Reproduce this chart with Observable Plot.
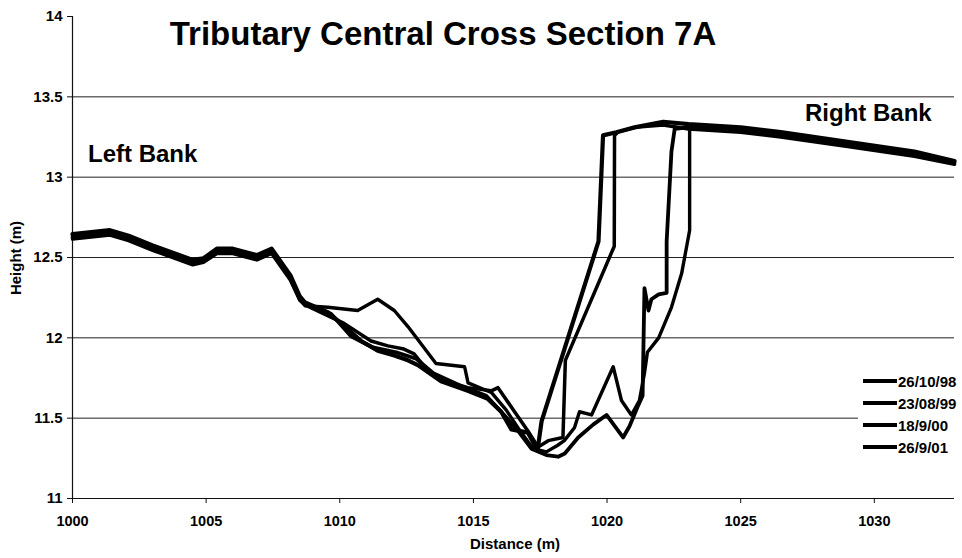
<!DOCTYPE html>
<html>
<head>
<meta charset="utf-8">
<script src="https://cdn.jsdelivr.net/npm/d3@7"></script>
<script src="https://cdn.jsdelivr.net/npm/@observablehq/plot@0.6"></script>
<style>
  html, body { margin: 0; padding: 0; background: #fff; }
  #wrap { position: relative; width: 962px; height: 558px; font-family: "Liberation Sans", Arial, Helvetica, sans-serif; font-weight: bold; color: #000; }
  #wrap svg { position: absolute; left: 0; top: 0; }
  .ov { position: absolute; white-space: nowrap; line-height: 1; }
  #legend { position: absolute; left: 858px; top: 368px; width: 104px; height: 92px; background: #fff; }
  .row { position: absolute; left: 5px; height: 18px; display: flex; align-items: center; font-size: 15px; }
  .sw { display: inline-block; width: 34px; background: #000; margin-right: 1px; }
</style>
</head>
<body>
<div id="wrap"></div>
<script>
// ---- data ----
const seriesNames = ["26/10/98", "23/08/99", "18/9/00", "26/9/01"];

const dist98 = [1000.0, 1001.4, 1002.1, 1003.0, 1004.5, 1004.9, 1005.4, 1006.0, 1006.9, 1007.45, 1008.15, 1008.5, 1008.7,
  1009.55, 1010.05, 1010.8, 1011.42, 1012.04, 1012.55, 1012.92, 1013.79, 1014.79, 1015.54, 1016.04, 1016.42, 1017.04, 1017.4,
  1017.55, 1019.68, 1019.85, 1020.35, 1021.03, 1022.1, 1023.05, 1025.0, 1026.5, 1029.0, 1031.5, 1033.0];
const height98 = [12.645, 12.67, 12.635, 12.575, 12.485, 12.495, 12.555, 12.555, 12.515, 12.555, 12.39, 12.26, 12.22,
  12.16, 12.09, 11.98, 11.92, 11.89, 11.86, 11.83, 11.73, 11.67, 11.62, 11.54, 11.43, 11.41, 11.30,
  11.48, 12.60, 13.26, 13.28, 13.31, 13.345, 13.33, 13.31, 13.28, 13.22, 13.16, 13.10];

const dist99 = [1000.0, 1001.4, 1002.1, 1003.0, 1004.5, 1004.9, 1005.4, 1006.0, 1006.9, 1007.45, 1008.15, 1008.5, 1008.7,
  1010.16, 1011.17, 1011.8, 1012.4, 1012.78, 1013.17, 1013.79, 1014.79, 1015.67, 1015.92, 1016.54, 1017.04, 1017.42,
  1017.8, 1018.35, 1018.44, 1020.27, 1020.28, 1020.4, 1021.05, 1022.1, 1023.05, 1025.0, 1026.5, 1029.0, 1031.5, 1033.0];
const height99 = [12.615, 12.64, 12.605, 12.545, 12.455, 12.47, 12.525, 12.525, 12.485, 12.525, 12.36, 12.235, 12.205,
  12.09, 11.98, 11.95, 11.93, 11.90, 11.82, 11.74, 11.69, 11.67, 11.69, 11.54, 11.42, 11.32,
  11.36, 11.38, 11.86, 12.57, 13.26, 13.28, 13.31, 13.325, 13.30, 13.28, 13.25, 13.19, 13.13, 13.08];

const dist00 = [1000.0, 1001.4, 1002.1, 1003.0, 1004.5, 1004.9, 1005.4, 1006.0, 1006.9, 1007.45, 1008.15, 1008.5, 1008.7,
  1009.67, 1010.42, 1011.24, 1012.11, 1012.86, 1013.5, 1014.54, 1015.48, 1016.15, 1016.72, 1017.17,
  1017.73, 1018.17, 1018.42, 1018.92, 1019.48, 1019.98, 1020.6, 1020.84, 1021.14, 1021.33,
  1021.4, 1021.55, 1021.66, 1021.93, 1022.23, 1022.23, 1022.41, 1022.53,
  1023.05, 1025.0, 1026.5, 1029.0, 1031.5, 1033.0];
const height00 = [12.625, 12.65, 12.62, 12.56, 12.47, 12.48, 12.54, 12.54, 12.50, 12.535, 12.37, 12.25, 12.21,
  12.15, 12.01, 11.94, 11.91, 11.87, 11.78, 11.70, 11.64, 11.52, 11.41, 11.31,
  11.27, 11.26, 11.28, 11.38, 11.46, 11.52, 11.38, 11.45, 11.57, 11.64,
  12.31, 12.17, 12.24, 12.27, 12.28, 12.60, 13.16, 13.30,
  13.31, 13.295, 13.265, 13.205, 13.145, 13.09];

const dist01 = [1000.0, 1001.4, 1002.1, 1003.0, 1004.5, 1004.9, 1005.4, 1006.0, 1006.9, 1007.45, 1008.15, 1008.5, 1008.7,
  1009.55, 1010.67, 1011.42, 1012.04, 1012.55, 1013.6, 1014.67, 1014.8, 1015.67, 1016.23, 1016.79, 1017.24,
  1017.73, 1018.14, 1018.4, 1018.78, 1018.97, 1019.42, 1020.23, 1020.54, 1020.91, 1021.21, 1021.4, 1021.51,
  1021.93, 1022.41, 1022.79, 1022.98, 1023.09, 1023.09,
  1025.0, 1026.5, 1029.0, 1031.5, 1033.0];
const height01 = [12.635, 12.66, 12.625, 12.565, 12.475, 12.49, 12.545, 12.545, 12.505, 12.545, 12.38, 12.24, 12.20,
  12.19, 12.17, 12.24, 12.17, 12.07, 11.84, 11.82, 11.72, 11.66, 11.55, 11.41, 11.31,
  11.29, 11.33, 11.36, 11.44, 11.54, 11.52, 11.82, 11.61, 11.52, 11.61, 11.78, 11.91,
  12.00, 12.19, 12.40, 12.57, 12.67, 13.30,
  13.30, 13.27, 13.21, 13.15, 13.10];

const xTicks = [1000, 1005, 1010, 1015, 1020, 1025, 1030];
const yTicks = [11, 11.5, 12, 12.5, 13, 13.5, 14];
const gridLines = [11.5, 12, 12.5, 13, 13.5];

const titleText = "Tributary Central Cross Section 7A";
const leftBankText = "Left Bank";
const rightBankText = "Right Bank";
const xLabel = "Distance (m)";
const yLabel = "Height (m)";

// ---- build ----
const allDist = [dist98, dist99, dist00, dist01];
const allHeight = [height98, height99, height00, height01];
const widths = [4.2, 3.5, 3.8, 3.4];
const rows = seriesNames.map((s, i) => allDist[i].map((d, j) => ({series: s, d, h: allHeight[i][j]})));

const chart = Plot.plot({
  width: 962,
  height: 558,
  marginLeft: 72,
  marginRight: 8,
  marginTop: 16,
  marginBottom: 60,
  x: {domain: [1000, 1033]},
  y: {domain: [11, 14]},
  style: {fontFamily: '"Liberation Sans", Arial, Helvetica, sans-serif', fontWeight: "bold", color: "#000", background: "transparent"},
  marks: [
    Plot.ruleY(gridLines, {stroke: "#222", strokeWidth: 1}),
    Plot.ruleY([11], {stroke: "#111", strokeWidth: 1.2}),
    Plot.ruleX([1000], {stroke: "#111", strokeWidth: 1.2}),
    Plot.axisY({ticks: yTicks, tickFormat: d => String(d), tickSize: 5, tickPadding: 5, label: null, fontSize: 15, stroke: "#111"}),
    Plot.axisX({ticks: xTicks, tickFormat: d => String(d), tickSize: 5, tickPadding: 12, label: null, fontSize: 14.5, stroke: "#111"}),
    ...rows.map((r, i) => Plot.line(r, {x: "d", y: "h", stroke: "#000", strokeWidth: widths[i], strokeLinejoin: "round", strokeLinecap: "round"}))
  ]
});

const wrap = document.getElementById("wrap");
wrap.appendChild(chart);

function ov(text, css) {
  const el = document.createElement("div");
  el.className = "ov";
  el.textContent = text;
  Object.assign(el.style, css);
  wrap.appendChild(el);
  return el;
}
ov(titleText, {left: "0px", width: "886px", textAlign: "center", top: "17px", fontSize: "33px"});
ov(leftBankText, {left: "88px", top: "142px", fontSize: "24px"});
ov(rightBankText, {left: "805px", top: "101px", fontSize: "24px"});
ov(xLabel, {left: "515px", top: "536px", fontSize: "15px", transform: "translateX(-50%)"});
ov(yLabel, {left: "15px", top: "258px", fontSize: "15px", transform: "translate(-50%, -50%) rotate(-90deg)"});

const legend = document.createElement("div");
legend.id = "legend";
wrap.appendChild(legend);
seriesNames.forEach((s, i) => {
  const row = document.createElement("div");
  row.className = "row";
  row.style.top = (381 + i * 22 - 368 - 9) + "px";
  const sw = document.createElement("span");
  sw.className = "sw";
  sw.style.height = widths[i] + "px";
  const t = document.createElement("span");
  t.textContent = s;
  row.appendChild(sw);
  row.appendChild(t);
  legend.appendChild(row);
});
</script>
</body>
</html>
